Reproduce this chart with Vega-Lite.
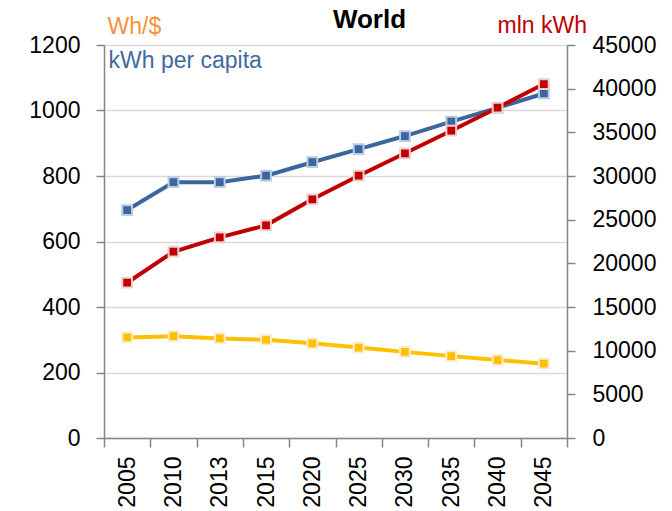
{
  "$schema": "https://vega.github.io/schema/vega-lite/v6.json",
  "width": 463,
  "height": 393,
  "autosize": {"type": "none"},
  "padding": {"left": 104, "top": 45, "right": 105, "bottom": 73},
  "background": "white",
  "title": {"text": "World", "font": "Liberation Sans", "fontSize": 26, "fontWeight": "bold", "color": "black", "anchor": "middle", "dx": 34, "offset": -40, "baseline": "alphabetic"},
  "config": {
    "view": {"stroke": null},
    "font": "Liberation Sans",
    "axis": {
      "labelFont": "Liberation Sans",
      "labelFontSize": 23,
      "labelColor": "black",
      "domainColor": "#868686",
      "domainWidth": 1.5,
      "tickColor": "#868686",
      "tickWidth": 1.5,
      "gridColor": "#D9D9D9",
      "gridWidth": 1.5,
      "titleFont": "Liberation Sans",
      "titleFontWeight": "normal"
    }
  },
  "data": {
    "values": [
      {"year": "2005", "kwh_pc": 696, "wh_usd": 307, "mln_kwh": 17780},
      {"year": "2010", "kwh_pc": 781, "wh_usd": 311, "mln_kwh": 21330},
      {"year": "2013", "kwh_pc": 781, "wh_usd": 304, "mln_kwh": 22980},
      {"year": "2015", "kwh_pc": 801, "wh_usd": 300, "mln_kwh": 24350},
      {"year": "2020", "kwh_pc": 842, "wh_usd": 289, "mln_kwh": 27330},
      {"year": "2025", "kwh_pc": 882, "wh_usd": 276, "mln_kwh": 30030},
      {"year": "2030", "kwh_pc": 922, "wh_usd": 263, "mln_kwh": 32600},
      {"year": "2035", "kwh_pc": 966, "wh_usd": 250, "mln_kwh": 35190},
      {"year": "2040", "kwh_pc": 1008, "wh_usd": 238, "mln_kwh": 37820},
      {"year": "2045", "kwh_pc": 1052, "wh_usd": 227, "mln_kwh": 40530}
    ]
  },
  "encoding": {
    "x": {
      "field": "year",
      "type": "ordinal",
      "bandPosition": 0.5,
      "scale": {"type": "band", "paddingInner": 0, "paddingOuter": 0},
      "axis": {
        "labelAngle": -90,
        "tickBand": "extent",
        "tickSize": 9,
        "labelPadding": 9,
        "grid": false,
        "title": "kWh per capita",
        "titleX": 4,
        "titleY": -378,
        "titleAlign": "left",
        "titleAnchor": "start",
        "titleBaseline": "middle",
        "titleAngle": 0,
        "titleColor": "#3F6A9E",
        "titleFontSize": 23
      }
    }
  },
  "layer": [
    {
      "transform": [{"fold": ["wh_usd", "kwh_pc"], "as": ["series", "value"]}],
      "encoding": {
        "y": {
          "field": "value",
          "type": "quantitative",
          "scale": {"domain": [0, 1200], "nice": false},
          "axis": {
            "orient": "left",
            "values": [0, 200, 400, 600, 800, 1000, 1200],
            "format": "d",
            "grid": true,
            "tickSize": 8,
            "labelPadding": 16,
            "title": "Wh/$",
            "titleAngle": 0,
            "titleX": 3,
            "titleY": -12,
            "titleAlign": "left",
            "titleBaseline": "alphabetic",
            "titleColor": "#F7923A",
            "titleFontSize": 23
          }
        },
        "color": {
          "field": "series",
          "type": "nominal",
          "scale": {"domain": ["wh_usd", "kwh_pc"], "range": ["#FFC000", "#3C679E"]},
          "legend": null
        }
      },
      "layer": [
        {"mark": {"type": "line", "strokeWidth": 4}},
        {
          "mark": {"type": "point", "shape": "square", "filled": true, "size": 95, "strokeWidth": 2, "opacity": 1},
          "encoding": {
            "stroke": {
              "field": "series",
              "type": "nominal",
              "scale": {"domain": ["wh_usd", "kwh_pc"], "range": ["#FFE9D0", "#B8CCE4"]},
              "legend": null
            }
          }
        }
      ]
    },
    {
      "encoding": {
        "y": {
          "field": "mln_kwh",
          "type": "quantitative",
          "scale": {"domain": [0, 45000], "nice": false},
          "axis": {
            "orient": "right",
            "values": [0, 5000, 10000, 15000, 20000, 25000, 30000, 35000, 40000, 45000],
            "format": "d",
            "grid": false,
            "tickSize": 8,
            "labelPadding": 17,
            "title": "mln kWh",
            "titleAngle": 0,
            "titleX": -70,
            "titleY": -13,
            "titleAlign": "left",
            "titleBaseline": "alphabetic",
            "titleColor": "#C00000",
            "titleFontSize": 23
          }
        }
      },
      "layer": [
        {"mark": {"type": "line", "color": "#C00000", "strokeWidth": 4}},
        {"mark": {"type": "point", "shape": "square", "filled": true, "size": 95, "color": "#C00000", "stroke": "#F2CDCD", "strokeWidth": 2, "opacity": 1}}
      ]
    }
  ],
  "resolve": {"scale": {"y": "independent", "color": "independent", "stroke": "independent"}}
}
